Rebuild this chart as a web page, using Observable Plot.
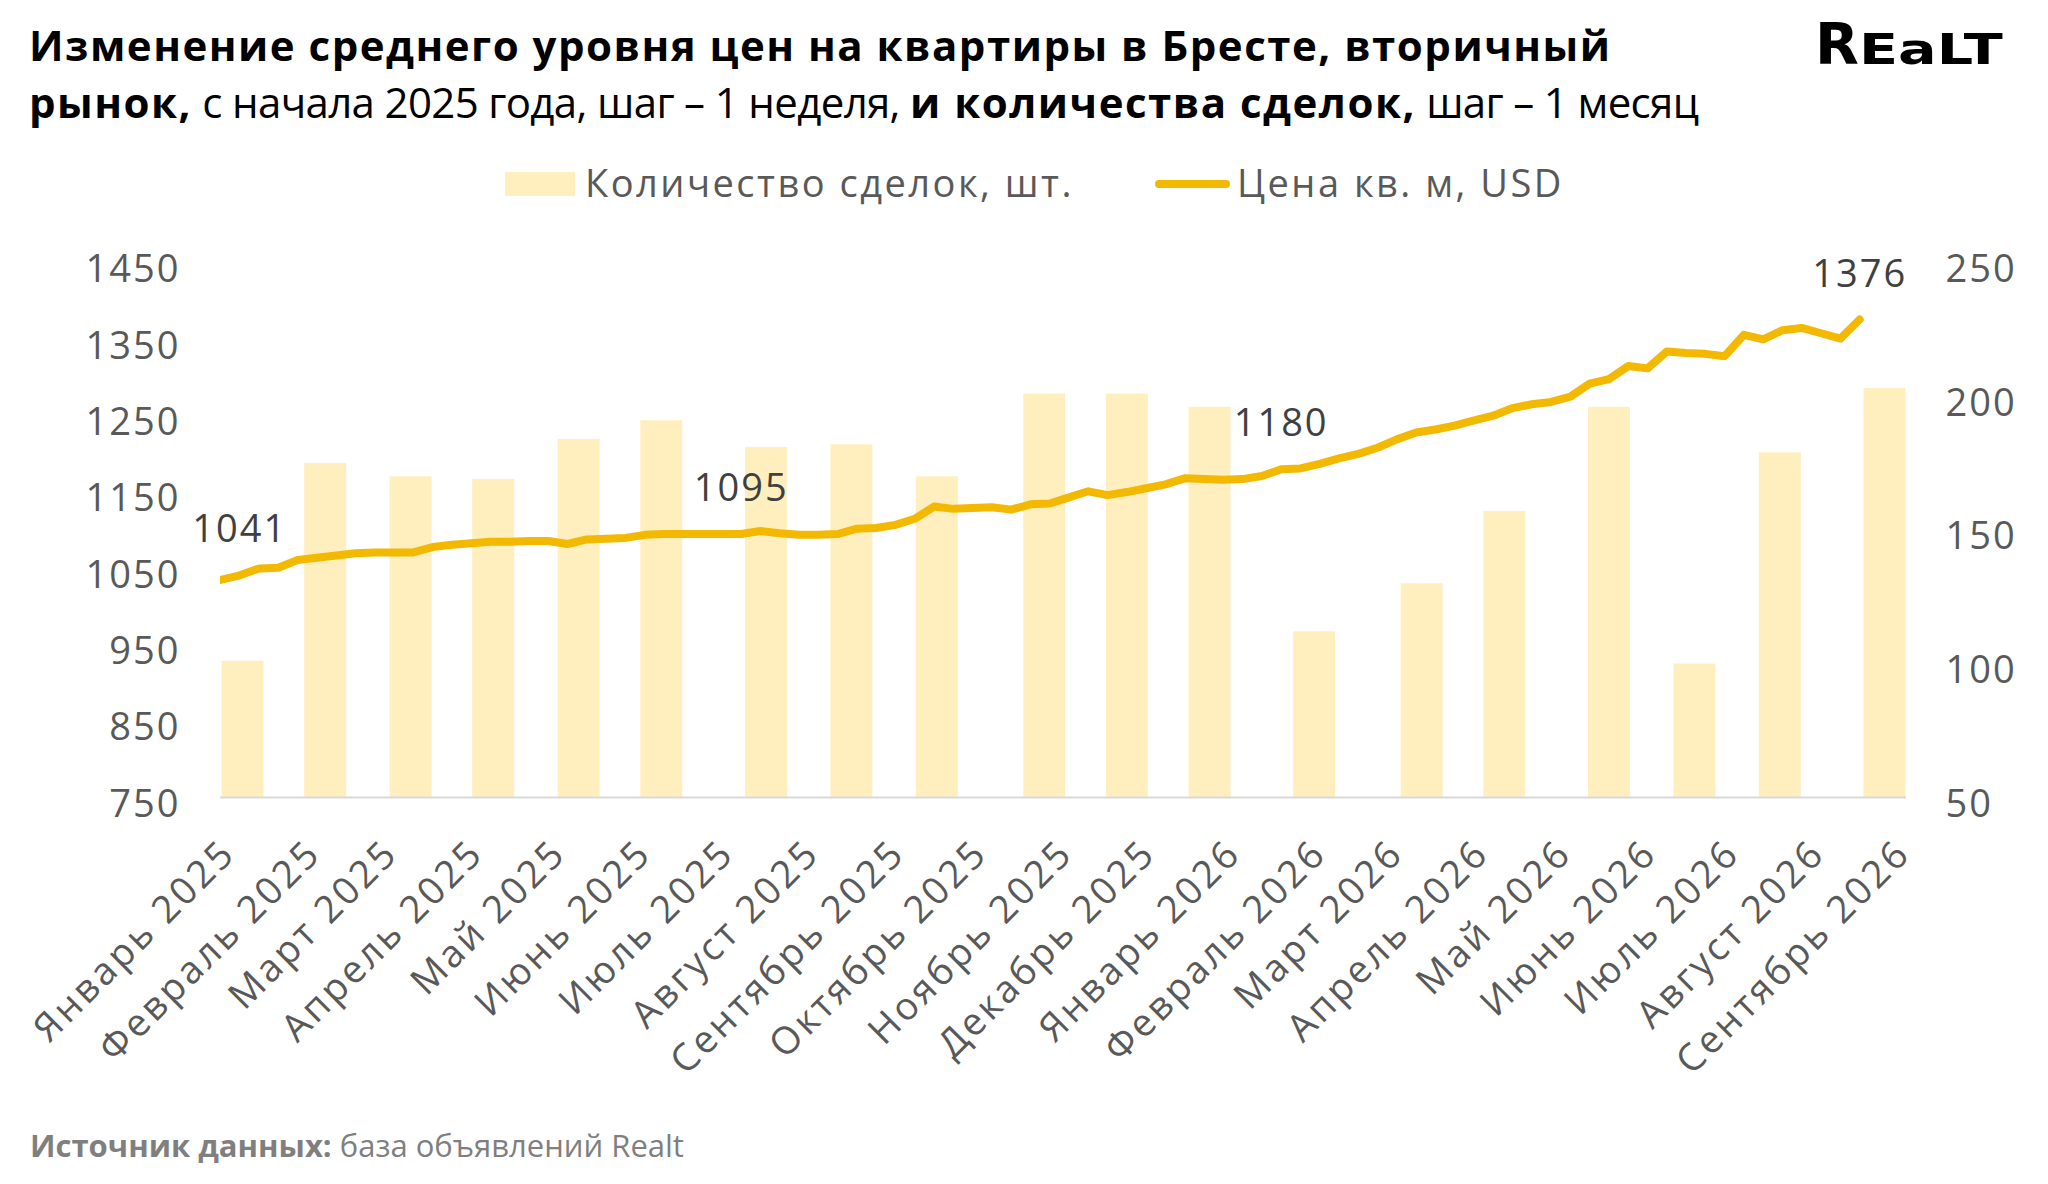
<!DOCTYPE html>
<html>
<head>
<meta charset="utf-8">
<script src="https://cdn.jsdelivr.net/npm/d3@7"></script>
<script src="https://cdn.jsdelivr.net/npm/@observablehq/plot@0.6"></script>
<style>
  html, body { margin: 0; padding: 0; background: #fff; }
  body { width: 2048px; height: 1184px; position: relative; overflow: hidden; font-family: 'Open Sans', sans-serif; }
  .abs { position: absolute; white-space: nowrap; }
  #title { left: 29px; top: 16px; font-size: 42px; line-height: 57px; color: #000; }
  #title b { font-weight: 700; letter-spacing: 1.5px; }
  #title .r { font-weight: 400; letter-spacing: -0.65px; }
  #logo { left: 1815px; top: 14px; font-family: 'DejaVu Sans', sans-serif; font-weight: 900; color: #000; line-height: 60px; }
  #logo .big { font-size: 57px; }
  #logo .sm { font-size: 43px; display: inline-block; transform: scaleX(1.33); transform-origin: left bottom; }
  .leg { font-size: 38px; color: #595959; letter-spacing: 2.5px; }
  #footer { left: 30px; top: 1130px; font-size: 31px; line-height: 30px; color: #7f7f7f; }
  #chart { position: absolute; left: 0; top: 240px; }
</style>
</head>
<body>
<div id="title" class="abs">
  <b>Изменение среднего уровня цен на квартиры в Бресте, вторичный</b><br>
  <b>рынок,</b><span class="r"> с начала 2025 года, шаг – 1 неделя, </span><b>и количества сделок,</b><span class="r"> шаг – 1 месяц</span>
</div>
<div id="logo" class="abs"><span class="big">R</span><span class="sm">EaLT</span></div>

<div class="abs" style="left:505px; top:172px; width:70px; height:24px; background:#FFEFBF;"></div>
<div class="abs leg" style="left:585px; top:157px; line-height:50px;">Количество сделок, шт.</div>
<div class="abs" style="left:1155px; top:180px; width:75px; height:8px; border-radius:4px; background:#F2B900;"></div>
<div class="abs leg" style="left:1237px; top:157px; line-height:50px;">Цена кв. м, USD</div>

<div id="chart"></div>

<div id="footer" class="abs"><b>Источник данных:</b> база объявлений Realt</div>

<script>
// ---- data ----
const priceStart = "2025-01-01"; // weekly series start
const prices = [
  1035, 1041, 1050, 1051, 1061, 1064, 1067, 1070, 1071, 1071,
  1071, 1078, 1081, 1083, 1085, 1085, 1086, 1086, 1082, 1088,
  1089, 1090, 1094, 1095, 1095, 1095, 1095, 1095, 1099, 1096,
  1094, 1094, 1095, 1102, 1103, 1107, 1115, 1131, 1128, 1129,
  1130, 1127, 1134, 1135, 1143, 1151, 1146, 1150, 1155, 1160,
  1168, 1167, 1166, 1167, 1171, 1180, 1181, 1187, 1194, 1200,
  1208, 1219, 1228, 1232, 1237, 1244, 1250, 1260, 1265, 1268,
  1275, 1292, 1298, 1315, 1312, 1334, 1332, 1331, 1328, 1356,
  1350, 1362, 1365, 1358, 1351, 1376
];
const labelledWeeks = [1, 27, 55, 85];

const dealDates = [
  "2025-01-09", "2025-02-08", "2025-03-11", "2025-04-10", "2025-05-11",
  "2025-06-10", "2025-07-18", "2025-08-18", "2025-09-18", "2025-10-27",
  "2025-11-26", "2025-12-26", "2026-02-02", "2026-03-13", "2026-04-12",
  "2026-05-20", "2026-06-20", "2026-07-21", "2026-08-28"
];
const dealCounts = [101, 175, 170, 169, 184, 191, 181, 182, 170, 201, 201, 196, 112, 130, 157, 196, 100, 179, 203];

const monthLabels = [
  "Январь 2025", "Февраль 2025", "Март 2025", "Апрель 2025", "Май 2025", "Июнь 2025",
  "Июль 2025", "Август 2025", "Сентябрь 2025", "Октябрь 2025", "Ноябрь 2025", "Декабрь 2025",
  "Январь 2026", "Февраль 2026", "Март 2026", "Апрель 2026", "Май 2026", "Июнь 2026",
  "Июль 2026", "Август 2026", "Сентябрь 2026"
];
const leftTicks = [750, 850, 950, 1050, 1150, 1250, 1350, 1450];
const rightTicks = [50, 100, 150, 200, 250];

// ---- build tables ----
const start = new Date(priceStart);
const priceData = prices.map((p, i) => ({date: d3.utcDay.offset(start, 7 * i), price: p}));
const labelData = labelledWeeks.map(i => priceData[i]);
const dealData = dealDates.map((d, i) => ({date: new Date(d), count: dealCounts[i]}));
const monthTicks = d3.utcMonth.range(new Date("2025-01-01"), new Date("2026-09-02"));

const yRight = d3.scaleLinear([50, 250], [750, 1450]);

const BAR = "#FFEFBF", LINE = "#F2B900", AX = "#595959";
const FONT = "'Open Sans', sans-serif";

const chart = Plot.plot({
  width: 2048,
  height: 880,
  marginTop: 22.5,
  marginBottom: 323,
  marginLeft: 220,
  marginRight: 142,
  style: {fontFamily: FONT, fontSize: "38px", color: AX, background: "transparent", overflow: "visible", letterSpacing: "2px"},
  x: {type: "utc", domain: [new Date("2025-01-01"), new Date("2026-09-05")], axis: null},
  y: {domain: [750, 1450], axis: null},
  marks: [
    Plot.ruleX(dealData, {x: "date", y1: 750, y2: d => yRight(d.count), stroke: BAR, strokeWidth: 42}),
    Plot.ruleY([750], {stroke: "#D9D9D9", strokeWidth: 2}),
    Plot.line(priceData, {x: "date", y: "price", stroke: LINE, strokeWidth: 8, strokeLinecap: "round", strokeLinejoin: "round", clip: true}),
    Plot.text(labelData, {x: "date", y: "price", text: d => String(d.price), dy: -45, fill: "#404040", fontSize: 38}),
    Plot.axisY(leftTicks, {anchor: "left", tickSize: 0, tickPadding: 40, dy: 7, fontSize: 38, color: AX, label: null,
      tickFormat: d => String(d)}),
    Plot.axisY(rightTicks.map(yRight), {anchor: "right", tickSize: 0, tickPadding: 39, dy: 7, fontSize: 38, color: AX, label: null,
      tickFormat: d => yRight.invert(d).toFixed(0)}),
    Plot.text(monthTicks, {x: d => d, text: (d, i) => monthLabels[i], frameAnchor: "bottom", rotate: -45,
      textAnchor: "end", lineAnchor: "bottom", dx: 17, dy: 58, fill: AX, fontSize: 38})
  ]
});
// letter spacing for month labels
chart.querySelectorAll("text").forEach(t => {
  if (monthLabels.includes(t.textContent)) t.style.letterSpacing = "3px";
});
document.getElementById("chart").appendChild(chart);
</script>
</body>
</html>
